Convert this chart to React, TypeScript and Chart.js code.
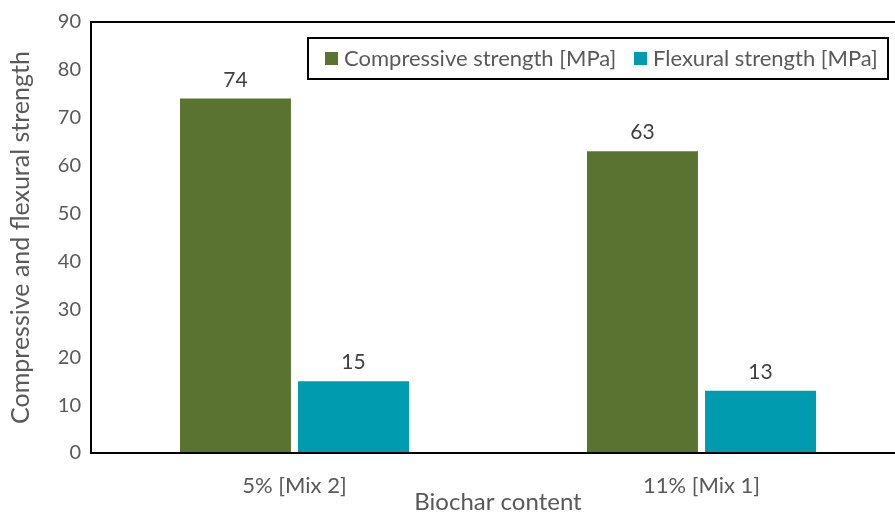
import React, { useEffect, useRef } from "react";
import { Chart, registerables } from "chart.js";

Chart.register(...registerables);

const categories = ["5% [Mix 2]", "11% [Mix 1]"];
const compressive = [74, 63];
const flexural = [15, 13];
const seriesLabels = ["Compressive strength [MPa]", "Flexural strength [MPa]"];
const seriesColors = ["#5B7331", "#009BAE"];
const yTitle = "Compressive and flexural strength";
const xTitle = "Biochar content";

const FONT = "Lato, 'Open Sans', sans-serif";

const framePlugin = {
  id: "frame",
  afterDatasetsDraw(chart: any) {
    const { ctx, chartArea } = chart;
    ctx.save();
    ctx.strokeStyle = "#000";
    ctx.lineWidth = 2;
    ctx.strokeRect(chartArea.left, chartArea.top, chartArea.right - chartArea.left, chartArea.bottom - chartArea.top);
    ctx.restore();
  },
};

const labelPlugin = {
  id: "valueLabels",
  afterDatasetsDraw(chart: any) {
    const { ctx } = chart;
    ctx.save();
    ctx.font = `21px ${FONT}`;
    ctx.fillStyle = "#404040";
    ctx.textAlign = "center";
    ctx.textBaseline = "alphabetic";
    chart.data.datasets.forEach((ds: any, i: number) => {
      const meta = chart.getDatasetMeta(i);
      meta.data.forEach((bar: any, j: number) => {
        ctx.fillText(String(ds.data[j]), bar.x, bar.y - 12);
      });
    });
    ctx.restore();
  },
};

const legendPlugin = {
  id: "boxLegend",
  afterDraw(chart: any) {
    const { ctx } = chart;
    ctx.save();
    ctx.fillStyle = "#fff";
    ctx.fillRect(308, 38, 580, 41);
    ctx.strokeStyle = "#000";
    ctx.lineWidth = 2;
    ctx.strokeRect(308, 38, 580, 41);
    const xs = [325, 634];
    ctx.font = `22px ${FONT}`;
    ctx.textBaseline = "middle";
    ctx.textAlign = "left";
    chart.data.datasets.forEach((ds: any, i: number) => {
      ctx.fillStyle = ds.backgroundColor;
      ctx.fillRect(xs[i], 52, 13, 13);
      ctx.fillStyle = "#595959";
      ctx.fillText(ds.label, xs[i] + 19, 59);
    });
    ctx.restore();
  },
};

export default function App() {
  const ref = useRef<HTMLCanvasElement>(null);
  useEffect(() => {
    if (!ref.current) return;
    const chart = new Chart(ref.current, {
      type: "bar",
      data: {
        labels: categories,
        datasets: [
          { label: seriesLabels[0], data: compressive, backgroundColor: seriesColors[0] },
          { label: seriesLabels[1], data: flexural, backgroundColor: seriesColors[1] },
        ],
      },
      options: {
        animation: false,
        responsive: false,
        maintainAspectRatio: false,
        layout: { padding: { top: 21, right: 5, left: 0, bottom: 0 } },
        datasets: { bar: { categoryPercentage: 0.58, barPercentage: 0.94 } },
        plugins: { legend: { display: false }, tooltip: { enabled: false } },
        scales: {
          x: {
            grid: { display: false, drawTicks: false },
            border: { display: false },
            ticks: { color: "#595959", font: { family: FONT, size: 22 }, padding: 20 },
            title: { display: true, text: xTitle, color: "#595959", font: { family: FONT, size: 24 }, padding: { top: 0, bottom: -1 } },
            afterFit: (s: any) => { s.height = 63; },
          },
          y: {
            min: 0,
            max: 90,
            grid: { display: false, drawTicks: false },
            border: { display: false },
            ticks: { stepSize: 10, color: "#595959", font: { family: FONT, size: 20 }, padding: 10 },
            title: { display: true, text: yTitle, color: "#595959", font: { family: FONT, size: 25 }, padding: { top: 6, bottom: 0 } },
            afterFit: (s: any) => { s.width = 91; },
          },
        },
      },
      plugins: [framePlugin, labelPlugin, legendPlugin],
    });
    return () => chart.destroy();
  }, []);
  return (
    <div style={{ position: "fixed", left: 0, top: 0, width: 895, height: 516, overflow: "hidden", background: "#fff" }}>
      <canvas ref={ref} width={910} height={516} style={{ display: "block", width: 910, height: 516 }} />
    </div>
  );
}
